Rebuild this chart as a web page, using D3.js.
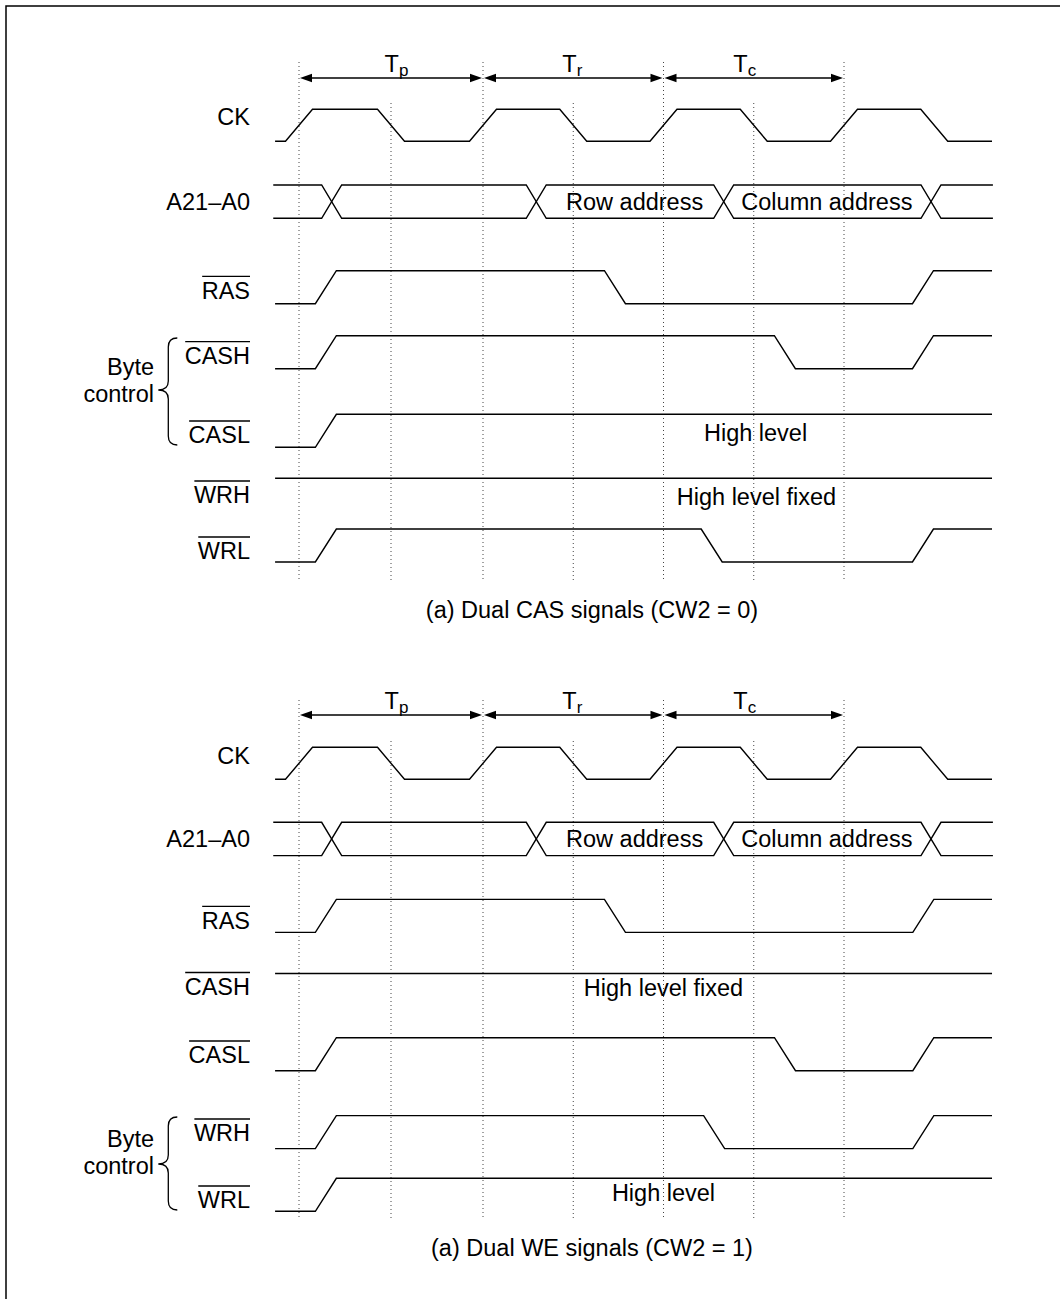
<!DOCTYPE html>
<html><head><meta charset="utf-8">
<script src="https://cdn.jsdelivr.net/npm/d3@7"></script>
<style>
html,body{margin:0;padding:0;background:#fff;}
svg{display:block;}
text{font-family:"Liberation Sans",Arial,Helvetica,sans-serif;fill:#000;}
</style></head><body>
<svg id="chart" width="1060" height="1299"></svg>
<script>
// ================= DATA =================
// time axis: units of half clock period (grid lines at integer times)
const gridTimes = [0, 1, 2, 3, 4, 5, 6];
const periodSpans = [[0, 2], [2, 4], [4, 6]];
const periodMain = ["T", "T", "T"];
const periodSubs = ["p", "r", "c"];
const periodLabelTimes = [1.06, 2.99, 4.9];

const ckEdges = [0, 1, 2, 3, 4, 5, 6, 7];          // CK toggles, starts low
const addrCrossings = [0.355, 2.59, 4.667, 6.964];
const addrLabels = ["Row address", "Column address"];
const addrLabelTimes = [3.68, 5.81];

// Diagram A : Dual CAS signals
const signalNamesA = ["RAS", "CASH", "CASL", "WRH", "WRL"];
const startLevelsA = [0, 0, 0, 1, 0];
const edgesA = [[0.292, 3.462, 6.875], [0.292, 5.345, 6.875], [0.292], [], [0.292, 4.534, 6.875]];
const notesA = ["", "", "High level", "High level fixed", ""];
const noteTimesA = [0, 0, 5.02, 5.03, 0];
const byteGroupA = [1, 2];
const captionA = "(a) Dual CAS signals (CW2 = 0)";

// Diagram B : Dual WE signals
const signalNamesB = ["RAS", "CASH", "CASL", "WRH", "WRL"];
const startLevelsB = [0, 1, 0, 0, 0];
const edgesB = [[0.292, 3.462, 6.879], [], [0.292, 5.346, 6.879], [0.292, 4.561, 6.879], [0.292]];
const notesB = ["", "High level fixed", "", "", "High level"];
const noteTimesB = [0, 4.0, 0, 0, 4.0];
const byteGroupB = [3, 4];
const captionB = "(a) Dual WE signals (CW2 = 1)";

const groupLabel = ["Byte", "control"];
const timeStart = -0.26, timeEnd = 7.64;

// ================= LAYOUT =================
const layoutA = {
  arrowY: 78, gridTopEven: 62, gridTopOdd: 103, gridBottom: 582,
  ckY: 109.3, ckLabelY: 117, busY: 185, busLabelY: 202,
  rowY: [270.7, 335.7, 414.3, 478.3, 529],
  labelY: [290.3, 355.7, 435, 495, 551],
  noteY: [0, 0, 433, 497, 0],
  brace: {top: 338, point: 390, bottom: 445}, groupTextY: [366.7, 393.3],
  captionY: 610
};
const layoutB = {
  arrowY: 715, gridTopEven: 700, gridTopOdd: 741, gridBottom: 1219,
  ckY: 747.3, ckLabelY: 755.3, busY: 822.3, busLabelY: 839,
  rowY: [899.4, 973.5, 1037.7, 1115.6, 1178.3],
  labelY: [920.3, 986.5, 1055, 1133, 1200],
  noteY: [0, 988, 0, 0, 1193],
  brace: {top: 1117, point: 1164, bottom: 1210}, groupTextY: [1139, 1166],
  captionY: 1248
};

const FONT = 23.5;
const AMP = 33, CK_AMP = 32, BUS_H = 33.3;
const CK_SLEW = 13.5, SIG_SLEW = 10.5, BUS_SLEW = 10;
const LABEL_X = 250;

const svg = d3.select("#chart");
const x = d3.scaleLinear().domain([0, 2, 6]).range([299, 483, 844]);
const line = d3.line();

// frame
svg.append("path").attr("d", "M6,1299 L6,6 L1060,6")
  .attr("fill", "none").attr("stroke", "#000").attr("stroke-width", 1.5);

function digitalPoints(startLevel, edges, yHigh, amp, slew) {
  const yOf = l => l ? yHigh : yHigh + amp;
  let lvl = startLevel;
  const pts = [[x(timeStart), yOf(lvl)]];
  edges.forEach(e => {
    pts.push([x(e) - slew, yOf(lvl)]);
    lvl = 1 - lvl;
    pts.push([x(e) + slew, yOf(lvl)]);
  });
  pts.push([x(timeEnd), yOf(lvl)]);
  return pts;
}

function rowLabel(g, name, cy, overline) {
  const t = g.append("text").attr("x", LABEL_X).attr("y", cy).attr("dy", "0.36em")
    .attr("text-anchor", "end").attr("font-size", FONT).text(name);
  if (overline) {
    const bb = t.node().getBBox();
    g.append("line").attr("x1", bb.x + 0.5).attr("x2", bb.x + bb.width)
      .attr("y1", cy - 14).attr("y2", cy - 14)
      .attr("stroke", "#000").attr("stroke-width", 1.3);
  }
}

function drawDiagram(L, names, starts, edges, notes, noteTimes, group, caption) {
  const g = svg.append("g");
  // dotted grid
  g.selectAll(".grid").data(gridTimes).join("line")
    .attr("x1", d => x(d)).attr("x2", d => x(d))
    .attr("y1", d => d % 2 === 0 ? L.gridTopEven : L.gridTopOdd)
    .attr("y2", L.gridBottom)
    .attr("stroke", "#444").attr("stroke-width", 1).attr("stroke-dasharray", "1,3");

  // period arrows
  periodSpans.forEach((s, i) => {
    const x1 = x(s[0]), x2 = x(s[1]), y = L.arrowY;
    g.append("line").attr("x1", x1 + 4).attr("x2", x2 - 4).attr("y1", y).attr("y2", y)
      .attr("stroke", "#000").attr("stroke-width", 1.5);
    g.append("path").attr("d", `M${x1 + 1},${y} L${x1 + 13},${y - 4.2} L${x1 + 13},${y + 4.2} Z`);
    g.append("path").attr("d", `M${x2 - 1},${y} L${x2 - 13},${y - 4.2} L${x2 - 13},${y + 4.2} Z`);
    const t = g.append("text").attr("x", x(periodLabelTimes[i])).attr("y", y - 6)
      .attr("text-anchor", "middle").attr("font-size", FONT);
    t.append("tspan").text(periodMain[i]);
    t.append("tspan").attr("font-size", 17).attr("dy", 4).text(periodSubs[i]);
  });

  // CK
  g.append("path").attr("d", line(digitalPoints(0, ckEdges, L.ckY, CK_AMP, CK_SLEW)))
    .attr("fill", "none").attr("stroke", "#000").attr("stroke-width", 1.4);
  rowLabel(g, "CK", L.ckLabelY, false);

  // address bus
  const top = L.busY, bot = L.busY + BUS_H;
  const upper = [[x(timeStart - 0.02), top]], lower = [[x(timeStart - 0.02), bot]];
  let up = true;
  addrCrossings.forEach(c => {
    upper.push([x(c) - BUS_SLEW, up ? top : bot]);
    lower.push([x(c) - BUS_SLEW, up ? bot : top]);
    up = !up;
    upper.push([x(c) + BUS_SLEW, up ? top : bot]);
    lower.push([x(c) + BUS_SLEW, up ? bot : top]);
  });
  upper.push([x(timeEnd + 0.01), up ? top : bot]);
  lower.push([x(timeEnd + 0.01), up ? bot : top]);
  [upper, lower].forEach(p => g.append("path").attr("d", line(p))
    .attr("fill", "none").attr("stroke", "#000").attr("stroke-width", 1.4));
  addrLabels.forEach((s, i) => g.append("text").attr("x", x(addrLabelTimes[i]))
    .attr("y", (top + bot) / 2).attr("dy", "0.36em").attr("text-anchor", "middle")
    .attr("font-size", FONT).text(s));
  rowLabel(g, "A21\u2013A0", L.busLabelY, false);

  // control signals
  names.forEach((n, i) => {
    g.append("path").attr("d", line(digitalPoints(starts[i], edges[i], L.rowY[i], AMP, SIG_SLEW)))
      .attr("fill", "none").attr("stroke", "#000").attr("stroke-width", 1.4);
    rowLabel(g, n, L.labelY[i], true);
    if (notes[i]) {
      g.append("text").attr("x", x(noteTimes[i])).attr("y", L.noteY[i]).attr("dy", "0.36em")
        .attr("text-anchor", "middle").attr("font-size", FONT).text(notes[i]);
    }
  });

  // brace for byte control
  const b = L.brace, bx = 168.3, hx = 177.3, tx = 158.3, r = 9;
  g.append("path").attr("d",
    `M${hx},${b.top} Q${bx},${b.top} ${bx},${b.top + r} L${bx},${b.point - r} ` +
    `Q${bx},${b.point} ${tx},${b.point} Q${bx},${b.point} ${bx},${b.point + r} ` +
    `L${bx},${b.bottom - r} Q${bx},${b.bottom} ${hx},${b.bottom}`)
    .attr("fill", "none").attr("stroke", "#000").attr("stroke-width", 1.3);
  groupLabel.forEach((s, i) => g.append("text").attr("x", 154).attr("y", L.groupTextY[i])
    .attr("dy", "0.36em").attr("text-anchor", "end").attr("font-size", FONT).text(s));

  // caption
  g.append("text").attr("x", 592).attr("y", L.captionY).attr("dy", "0.36em")
    .attr("text-anchor", "middle").attr("font-size", FONT).text(caption);
}

drawDiagram(layoutA, signalNamesA, startLevelsA, edgesA, notesA, noteTimesA, byteGroupA, captionA);
drawDiagram(layoutB, signalNamesB, startLevelsB, edgesB, notesB, noteTimesB, byteGroupB, captionB);
</script>
</body></html>
